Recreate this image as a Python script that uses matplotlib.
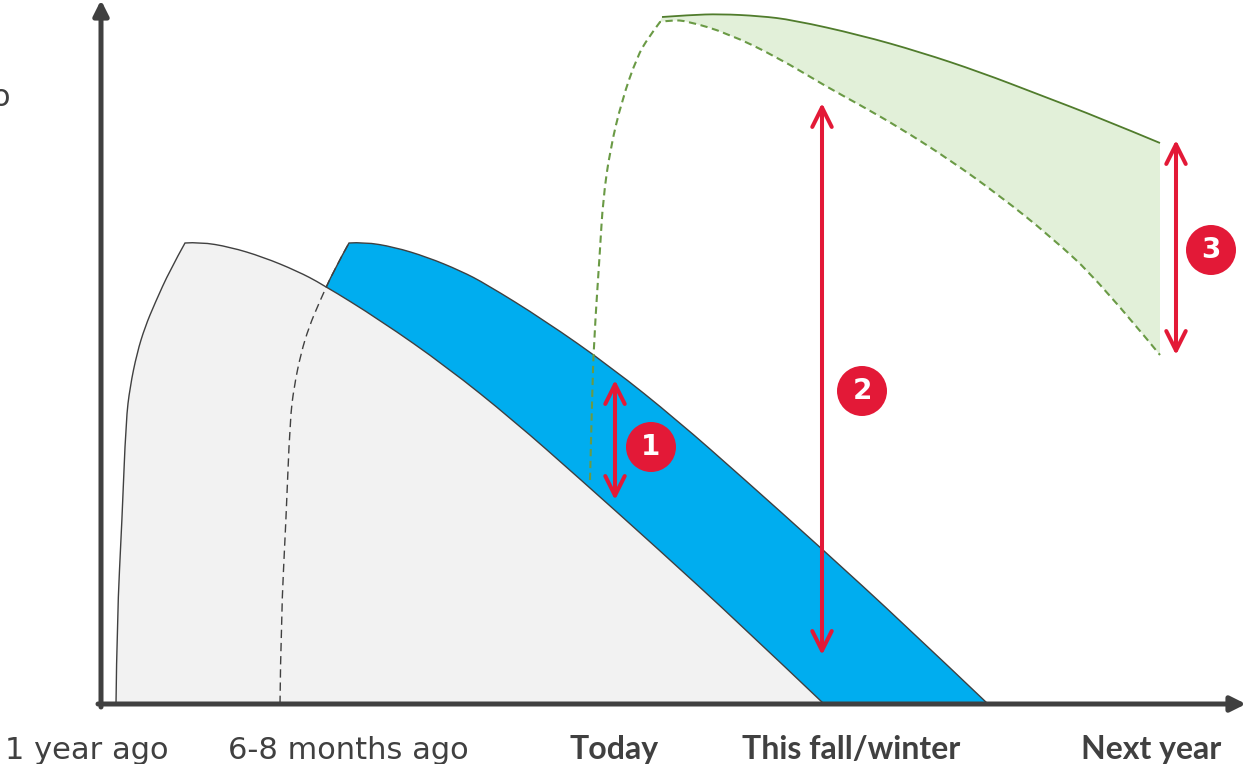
import matplotlib
matplotlib.use("Agg")
import matplotlib.pyplot as plt
from matplotlib.patches import PathPatch, Circle
from matplotlib.path import Path

# Schematic curves: x = position along the time axis, y = level above the baseline
grey_x = [15, 16, 21, 25, 29, 36, 44, 54, 69, 84, 99, 129, 162, 196, 221, 279, 346, 412, 479, 556, 639, 723]
grey_y = [0, 84, 184, 284, 317, 351, 377, 401, 434, 461, 462, 457, 447, 433, 420, 384, 337, 284, 225, 156, 80, 0]

blue_x = [179, 180, 185, 189, 193, 200, 208, 218, 233, 248, 263, 293, 326, 360, 385, 443, 510, 576, 643, 720, 803, 887]
blue_y = [0, 84, 184, 284, 317, 351, 377, 401, 434, 461, 462, 457, 447, 433, 420, 384, 337, 284, 225, 156, 80, 0]

green_low_x = [489, 491, 493, 499, 502, 509, 521, 536, 547, 559, 571, 586, 626, 676, 726, 759, 799, 849, 899, 949, 999, 1059]
green_low_y = [224, 304, 364, 454, 504, 554, 604, 647, 666, 682, 684, 683, 671, 647, 617, 599, 576, 544, 508, 468, 422, 349]

green_top_x = [561, 589, 619, 659, 692, 759, 819, 879, 939, 999, 1059]
green_top_y = [687, 689, 690, 688, 684, 669, 652, 632, 609, 586, 561]

# Double-headed gap arrows and their numbered badges
arrow_x = [514, 721, 1075]
arrow_lo = [204, 49, 349]
arrow_hi = [324, 601, 564]
badge_x = [550, 761, 1110]
badge_y = [257, 313, 454]
badge_text = ["1", "2", "3"]

# Time axis labels
tick_pos = [-14, 247, 513, 750, 1050]
tick_labels = ["1 year ago", "6-8 months ago", "Today", "This fall/winter", "Next year"]
tick_bold = [False, False, True, True, True]

AXIS_C = "#404040"
GREY_FILL = "#F2F2F2"
BLUE = "#00ADEF"
GREEN_FILL = "#E2F0D9"
GREEN_LINE = "#507C2C"
GREEN_DASH = "#6A9A45"
RED = "#E31937"

PEAK = 9  # index where the rising flank meets the falling flank


def smooth(xs, ys, corners=()):
    """Quadratic Bezier path through the given points (corners kept sharp)."""
    pts = list(zip(xs, ys))
    cuts = [0] + sorted(corners) + [len(pts) - 1]
    verts, codes = [pts[0]], [Path.MOVETO]
    for a, b in zip(cuts[:-1], cuts[1:]):
        seg = pts[a:b + 1]
        if len(seg) == 2:
            verts.append(seg[1])
            codes.append(Path.LINETO)
            continue
        for i in range(1, len(seg) - 1):
            if i < len(seg) - 2:
                end = ((seg[i][0] + seg[i + 1][0]) / 2, (seg[i][1] + seg[i + 1][1]) / 2)
            else:
                end = seg[-1]
            verts += [seg[i], end]
            codes += [Path.CURVE3, Path.CURVE3]
    return verts, codes


def closed(verts, codes):
    return Path(verts + [verts[0]], codes + [Path.CLOSEPOLY])


def line_path(verts, codes):
    return Path(verts, codes)


fig = plt.figure(figsize=(12.48, 7.64), dpi=100)
ax = fig.add_axes([0, 0, 1, 1])
ax.set_xlim(-101, 1147)
ax.set_ylim(-60, 704)
ax.axis("off")

# Blue band (later wave), partly hidden behind the grey area
bv, bc = smooth(blue_x, blue_y, corners=(PEAK,))
ax.add_patch(PathPatch(closed(bv, bc), facecolor=BLUE, edgecolor="none", zorder=1))
ax.add_patch(PathPatch(line_path(bv, bc), facecolor="none", edgecolor=AXIS_C, lw=1.0, zorder=1.5))

# Grey area (first wave)
gv, gc = smooth(grey_x, grey_y, corners=(PEAK,))
ax.add_patch(PathPatch(closed(gv, gc), facecolor=GREY_FILL, edgecolor="none", zorder=2))
rv, rc = smooth(blue_x[:PEAK + 1], blue_y[:PEAK + 1])
ax.add_patch(PathPatch(line_path(rv, rc), facecolor="none", edgecolor=AXIS_C, lw=1.0,
                       ls=(0, (6, 3.5)), zorder=2.5))
ax.add_patch(PathPatch(line_path(gv, gc), facecolor="none", edgecolor=AXIS_C, lw=1.0, zorder=3))

# Green projected range
tv, tc = smooth(green_top_x, green_top_y)
lv, lc = smooth(green_low_x[PEAK:][::-1], green_low_y[PEAK:][::-1])
fill_verts = tv + lv + [tv[0]]
fill_codes = tc + [Path.LINETO] + lc[1:] + [Path.CLOSEPOLY]
ax.add_patch(PathPatch(Path(fill_verts, fill_codes), facecolor=GREEN_FILL, edgecolor="none", zorder=1))
ax.add_patch(PathPatch(line_path(tv, tc), facecolor="none", edgecolor=GREEN_LINE, lw=1.3, zorder=3))
dv, dc = smooth(green_low_x, green_low_y, corners=(PEAK,))
ax.add_patch(PathPatch(line_path(dv, dc), facecolor="none", edgecolor=GREEN_DASH, lw=1.5,
                       ls=(0, (3.5, 2.2)), zorder=3))

# Axes with arrow heads
axis_props = dict(arrowstyle="-|>,head_length=0.9,head_width=0.45", color=AXIS_C,
                  lw=3.6, shrinkA=0, shrinkB=0, mutation_scale=10)
ax.annotate("", xy=(0, 704), xytext=(0, -3), arrowprops=axis_props, zorder=5)
ax.annotate("", xy=(1145, 0), xytext=(-3, 0), arrowprops=axis_props, zorder=5)

# Red gap arrows and badges
for x, lo, hi, bx, by, t in zip(arrow_x, arrow_lo, arrow_hi, badge_x, badge_y, badge_text):
    ax.annotate("", xy=(x, hi), xytext=(x, lo),
                arrowprops=dict(arrowstyle="<->,head_length=1.4,head_width=0.7", color=RED,
                                lw=2.9, shrinkA=0, shrinkB=0, mutation_scale=10,
                                capstyle="round", joinstyle="round"), zorder=6)
    ax.add_patch(Circle((bx, by), 25, facecolor=RED, edgecolor="none", zorder=6))
    ax.text(bx, by, t, color="white", fontsize=20, fontweight="bold", family="DejaVu Sans",
            ha="center", va="center", zorder=7)

# Time labels
for x, lab, b in zip(tick_pos, tick_labels, tick_bold):
    if b:
        ax.text(x, -55, lab, ha="center", va="baseline", fontsize=23, fontweight="bold",
                family="Lato", color=AXIS_C)
    else:
        ax.text(x, -55, lab, ha="center", va="baseline", fontsize=22,
                family="DejaVu Sans", color=AXIS_C)

# Tail of the vertical axis title
ax.text(-100, 606, "o", ha="center", va="center", fontsize=22, family="DejaVu Sans", color=AXIS_C)

fig.savefig("out.png", dpi=100)
